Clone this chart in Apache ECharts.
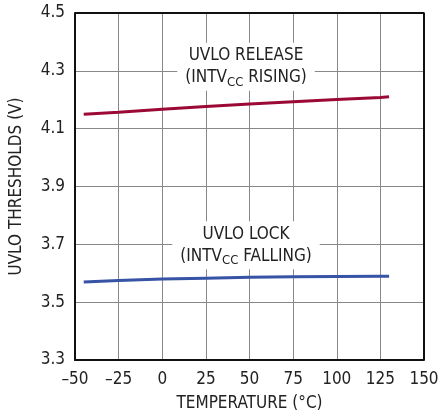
<!DOCTYPE html>
<html>
<head>
    <meta charset="UTF-8">
    <title>UVLO Thresholds vs Temperature</title>
    <script src="https://cdn.jsdelivr.net/npm/echarts@6/dist/echarts.min.js"></script>
    <style>
        html, body { margin: 0; padding: 0; background: #fff; }
    </style>
</head>
<body>
    <div id="main" style="width: 442px; height: 417px;"></div>
    <script>
        // temperature points (°C)
        const temps = [-45, -25, 0, 25, 50, 75, 100, 125, 130];
        // UVLO release (INTVcc rising), volts
        const releaseVals = [4.150, 4.157, 4.167, 4.177, 4.185, 4.193, 4.201, 4.208, 4.210];
        // UVLO lock (INTVcc falling), volts
        const lockVals = [3.570, 3.575, 3.580, 3.583, 3.586, 3.588, 3.589, 3.590, 3.590];

        const FONT = '"DejaVu Sans Condensed", "Liberation Sans Narrow", "Liberation Sans", sans-serif';

        const pairs = (xs, ys) => xs.map((x, i) => [x, ys[i]]);

        const labelStyle = {
            show: true,
            position: 'inside',
            backgroundColor: '#fff',
            padding: [2, 8],
            color: '#222',
            lineHeight: 22,
            align: 'center',
            rich: {
                a: { fontFamily: FONT, fontSize: 17, color: '#222' },
                s: { fontFamily: FONT, fontSize: 13, color: '#222', verticalAlign: 'bottom', padding: [8, 0, 0, 0] }
            }
        };

        const option = {
            animation: false,
            backgroundColor: '#fff',
            grid: { left: 72, right: 18, top: 13, bottom: 56 },
            xAxis: {
                type: 'value',
                min: -50,
                max: 150,
                interval: 25,
                name: 'TEMPERATURE (°C)',
                nameLocation: 'middle',
                nameGap: 35,
                nameTextStyle: { fontFamily: FONT, fontSize: 17, color: '#222' },
                axisLine: { show: true, onZero: false, lineStyle: { color: '#111', width: 2 } },
                axisTick: { show: false },
                axisLabel: {
                    fontFamily: FONT, fontSize: 17, color: '#222', margin: 11,
                    formatter: v => String(v).replace('-', '\u2013')
                },
                splitLine: { show: true, lineStyle: { color: '#888', width: 1 } }
            },
            yAxis: {
                type: 'value',
                min: 3.3,
                max: 4.5,
                interval: 0.2,
                name: 'UVLO THRESHOLDS (V)',
                nameLocation: 'middle',
                nameGap: 50,
                nameTextStyle: { fontFamily: FONT, fontSize: 17, color: '#222' },
                axisLine: { show: true, onZero: false, lineStyle: { color: '#111', width: 2 } },
                axisTick: { show: false },
                axisLabel: {
                    fontFamily: FONT, fontSize: 17, color: '#222', margin: 10,
                    formatter: v => v.toFixed(1)
                },
                splitLine: { show: true, lineStyle: { color: '#888', width: 1 } }
            },
            series: [
                {
                    name: 'UVLO RELEASE',
                    type: 'line',
                    data: pairs(temps, releaseVals),
                    showSymbol: false,
                    lineStyle: { color: '#9b0a36', width: 3 },
                    z: 3,
                    markPoint: {
                        symbol: 'rect',
                        symbolSize: 0,
                        data: [{ coord: [48, 4.314] }],
                        label: Object.assign({}, labelStyle, {
                            formatter: '{a|UVLO RELEASE}\n{a|(INTV}{s|CC}{a| RISING)}'
                        })
                    }
                },
                {
                    name: 'UVLO LOCK',
                    type: 'line',
                    data: pairs(temps, lockVals),
                    showSymbol: false,
                    lineStyle: { color: '#3653a5', width: 3 },
                    z: 3,
                    markPoint: {
                        symbol: 'rect',
                        symbolSize: 0,
                        data: [{ coord: [48, 3.697] }],
                        label: Object.assign({}, labelStyle, {
                            formatter: '{a|UVLO LOCK}\n{a|(INTV}{s|CC}{a| FALLING)}'
                        })
                    }
                },
                {
                    // top and right frame
                    type: 'line',
                    data: [[-50, 4.5], [150, 4.5], [150, 3.3]],
                    showSymbol: false,
                    silent: true,
                    lineStyle: { color: '#111', width: 2 },
                    z: 4
                }
            ]
        };

        const myChart = echarts.init(document.getElementById('main'));
        myChart.setOption(option);
    </script>
</body>
</html>
